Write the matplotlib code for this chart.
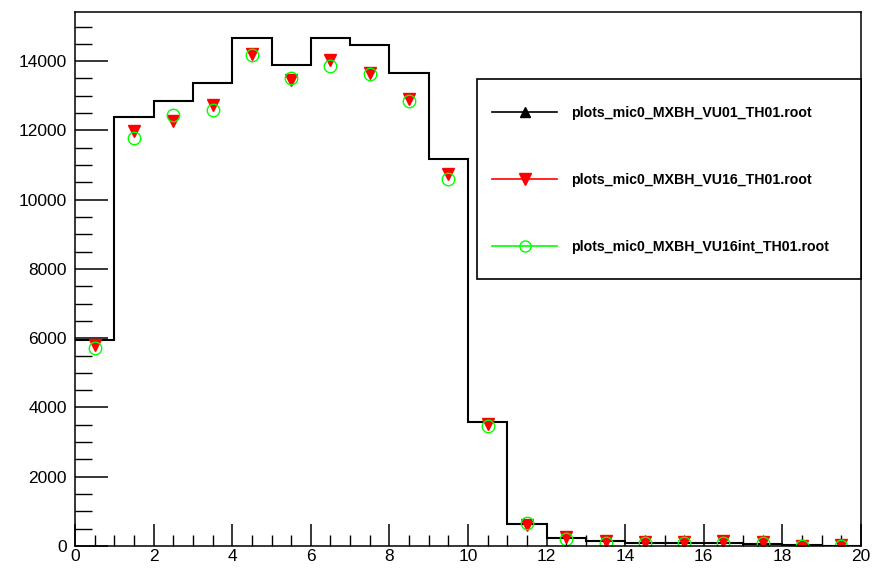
import numpy as np
import matplotlib
matplotlib.use("Agg")
import matplotlib.pyplot as plt
from matplotlib.lines import Line2D
from matplotlib.patches import Rectangle
from matplotlib.ticker import MultipleLocator

plt.rcParams['font.family'] = ['Liberation Sans', 'DejaVu Sans']

# bin edges 0..20, width 1
edges = np.arange(0, 21, 1)
centers = edges[:-1] + 0.5

# plots_mic0_MXBH_VU01_TH01.root (histogram, drawn as steps)
vu01 = [5950, 12390, 12840, 13370, 14680, 13900, 14680, 14480, 13660, 11170,
        3570, 635, 222, 144, 95, 90, 90, 50, 40, 0]
# plots_mic0_MXBH_VU16_TH01.root
vu16 = [5800, 11985, 12265, 12727, 14219, 13468, 14026, 13660, 12920, 10736,
        3521, 606, 250, 153, 106, 106, 153, 106, 10, 30]
# plots_mic0_MXBH_VU16int_TH01.root
vu16int = [5723, 11795, 12459, 12603, 14190, 13526, 13853, 13622, 12843, 10592,
           3472, 673, 193, 95, 95, 95, 95, 95, 0, 0]

labels = ['plots_mic0_MXBH_VU01_TH01.root',
          'plots_mic0_MXBH_VU16_TH01.root',
          'plots_mic0_MXBH_VU16int_TH01.root']

fig = plt.figure(figsize=(8.75, 5.68), dpi=100)
ax = fig.add_axes([75/875, 1-546/568, (861-75)/875, (546-12)/568])

ax.stairs(vu01, edges, color='black', lw=1.5, baseline=None)
ax.plot(centers, vu16, ls='none', marker='v', ms=8, color='red', mec='red')
ax.plot(centers, vu16int, ls='none', marker='o', ms=9, mfc='none',
        mec='#00ff00', mew=1.0)

ax.set_xlim(0, 20)
ax.set_ylim(0, 15420)
ax.xaxis.set_major_locator(MultipleLocator(2))
ax.xaxis.set_minor_locator(MultipleLocator(0.5))
ax.yaxis.set_major_locator(MultipleLocator(2000))
ax.yaxis.set_minor_locator(MultipleLocator(500))
ax.tick_params(axis='both', which='both', direction='in', top=False, right=False,
               labelsize=12.5, colors='black')
ax.tick_params(axis='x', which='major', length=16, width=1.1, pad=2)
ax.tick_params(axis='x', which='minor', length=8, width=1.0)
ax.tick_params(axis='y', which='major', length=24, width=1.1, pad=6)
ax.tick_params(axis='y', which='minor', length=12, width=1.0)
for s in ax.spines.values():
    s.set_linewidth(1.1)

# legend box
fig.patches.append(Rectangle((477/875, 1-279/568), (861-477)/875, 200/568,
                             transform=fig.transFigure, fill=True, fc='white',
                             ec='black', lw=1.2, zorder=5))
handles = [Line2D([], [], color='black', marker='^', ms=7, lw=1.2),
           Line2D([], [], color='red', marker='v', ms=8, lw=1.2),
           Line2D([], [], color='#00ff00', marker='o', ms=8, mfc='none', lw=1.2)]
leg = fig.legend(handles, labels, loc='upper left',
                 bbox_to_anchor=(492/875, 1-106/568), frameon=False,
                 prop={'weight': 'bold', 'size': 10.2}, handlelength=4.6,
                 handletextpad=1.0, labelspacing=3.75, borderpad=0,
                 borderaxespad=0)
leg.set_zorder(6)

fig.savefig('out.png', dpi=100)
